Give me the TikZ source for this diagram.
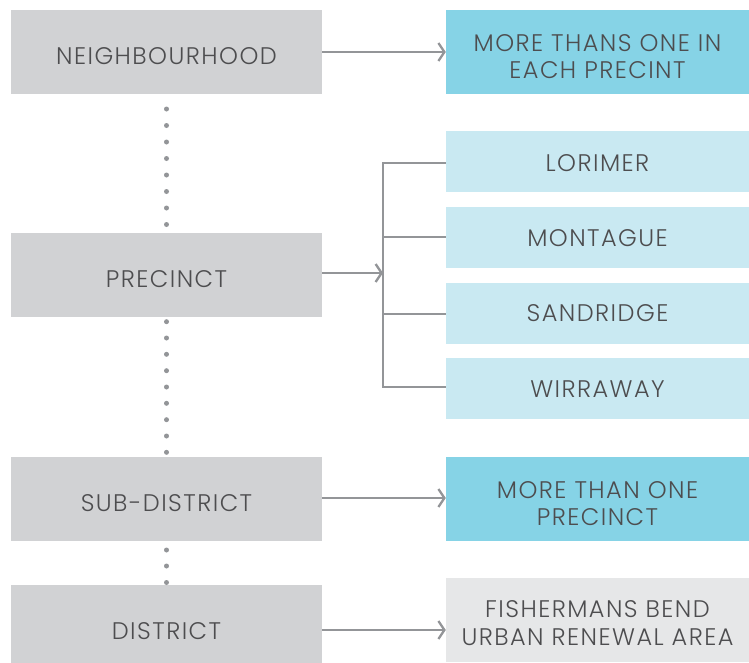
\documentclass[tikz,border=0pt]{standalone}
\usepackage{fontspec}
\setmainfont{Poppins}[UprightFont=* Light,LetterSpace=6]
\usetikzlibrary{arrows.meta}
\definecolor{boxgray}{HTML}{D1D2D4}
\definecolor{lightblue}{HTML}{C9E9F2}
\definecolor{brightblue}{HTML}{86D3E6}
\definecolor{palegray}{HTML}{E6E7E8}
\definecolor{linegray}{HTML}{939598}
\definecolor{textgray}{HTML}{4D4D4F}
\begin{document}
\begin{tikzpicture}[x=1pt,y=-1pt,
  box/.style={rectangle,inner sep=0pt},
  lbl/.style={inner sep=0pt,text=textgray,font=\fontsize{24}{27.5}\selectfont,align=center},
  conn/.style={draw=linegray,line width=2.5pt},
  arr/.style={conn,-{Straight Barb[length=6pt,width=18pt,line width=2.3pt]}},
  dot/.style={circle,fill=linegray,inner sep=0pt,minimum size=5pt}]
\useasboundingbox (0,0) rectangle (749,662);
% left column
\node[box,fill=boxgray,minimum width=311pt,minimum height=84pt] (nb) at (166.5,52) {};
\node[box,fill=boxgray,minimum width=311pt,minimum height=84pt] (pr) at (166.5,275) {};
\node[box,fill=boxgray,minimum width=311pt,minimum height=84pt] (sd) at (166.5,499) {};
\node[box,fill=boxgray,minimum width=311pt,minimum height=84pt] (di) at (166.5,627) {};
% right column
\node[box,fill=brightblue,minimum width=303pt,minimum height=84pt] (r1) at (597.5,52) {};
\node[box,fill=lightblue,minimum width=303pt,minimum height=61pt] (lo) at (597.5,161.5) {};
\node[box,fill=lightblue,minimum width=303pt,minimum height=61pt] (mo) at (597.5,237.5) {};
\node[box,fill=lightblue,minimum width=303pt,minimum height=61pt] (sa) at (597.5,313) {};
\node[box,fill=lightblue,minimum width=303pt,minimum height=61pt] (wi) at (597.5,388) {};
\node[box,fill=brightblue,minimum width=303pt,minimum height=84pt] (r2) at (597.5,499) {};
\node[box,fill=palegray,minimum width=303pt,minimum height=84pt] (r3) at (597.5,620) {};
% labels
\node[lbl] (nbt) at ([yshift=-4pt]nb.center) {NEIGHBOURHOOD};
\node[lbl] (prt) at ([yshift=-4.5pt]pr.center) {PRECINCT};
\node[lbl] (sdt) at ([yshift=-4pt]sd.center) {SUB-DISTRICT};
\node[lbl] (dit) at ([yshift=-4pt]di.center) {DISTRICT};
\node[lbl] (r1t) at ([yshift=-4.5pt]r1.center) {MORE THANS ONE IN\\EACH PRECINT};
\node[lbl] (lot) at ([yshift=-1.5pt]lo.center) {LORIMER};
\node[lbl] (mot) at ([yshift=-0.5pt]mo.center) {MONTAGUE};
\node[lbl] (sat) at ([yshift=-0.5pt]sa.center) {SANDRIDGE};
\node[lbl] (wit) at ([yshift=-1.5pt]wi.center) {WIRRAWAY};
\node[lbl] (r2t) at ([yshift=-4.5pt]r2.center) {MORE THAN ONE\\PRECINCT};
\node[lbl] (r3t) at ([yshift=-3pt]r3.center) {FISHERMANS BEND\\URBAN RENEWAL AREA};
% arrows
\draw[arr] (nb.east |- 0,52) -- (r1.west |- 0,52);
\coordinate (br) at (383,273);
\draw[arr] (pr.east |- br) -- (br);
\draw[arr] (sd.east |- 0,498) -- (r2.west |- 0,498);
\draw[arr] (di.east |- 0,630) -- (r3.west |- 0,630);
% bracket
\draw[conn] (lo.west |- 0,163) -- (383,163) -- (383,387) -- (wi.west |- 0,387);
\draw[conn] (383,237) -- (mo.west |- 0,237);
\draw[conn] (383,314) -- (sa.west |- 0,314);
% dots
\foreach \y in {109,125.5,142,158.5,175,191.5,208,224.5} \node[dot] at (166.5,\y) {};
\foreach \y in {321.7,338,354.3,370.7,387,403.3,419.7,436,452.3} \node[dot] at (166.5,\y) {};
\foreach \y in {550,566,582.5} \node[dot] at (166.5,\y) {};
\end{tikzpicture}
\end{document}
